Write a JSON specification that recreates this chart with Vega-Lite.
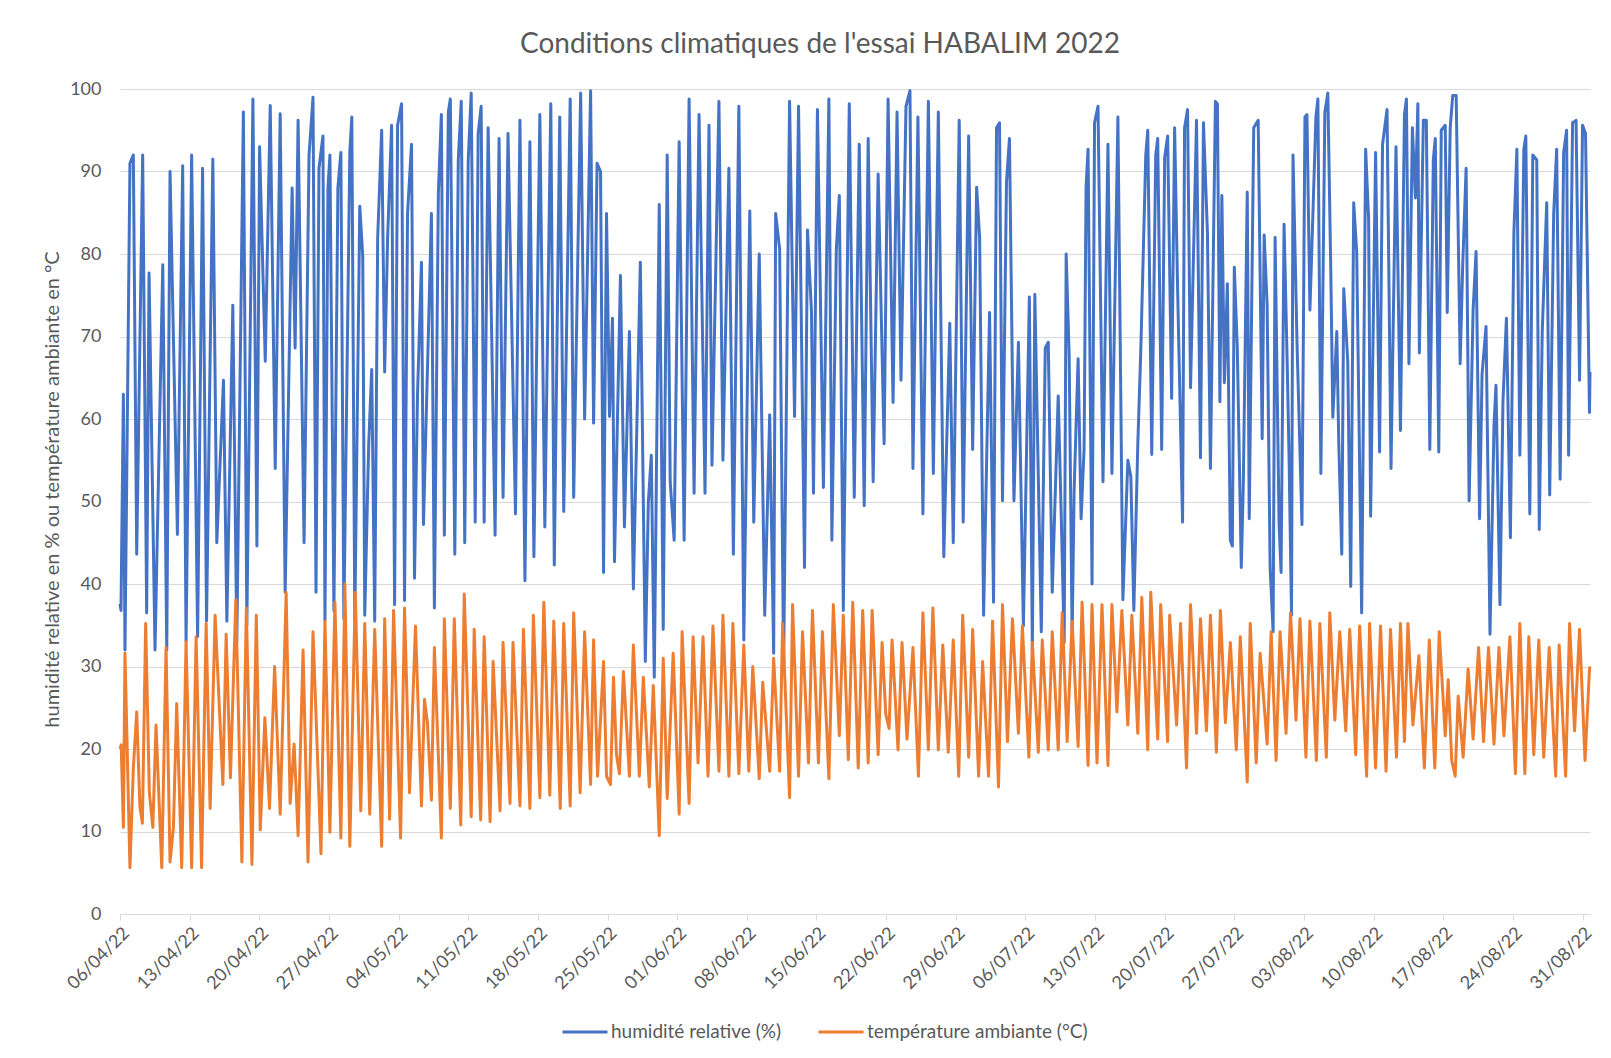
{
"$schema": "https://vega.github.io/schema/vega-lite/v6.json",
"autosize": {"type": "none"},
"width": 1470,
"height": 825,
"padding": {"left": 120, "top": 89, "right": 21, "bottom": 144},
"background": "#ffffff",
"title": {"text": "Conditions climatiques de l'essai HABALIM 2022", "font": "Lato", "fontSize": 28, "fontWeight": "normal", "color": "#595959", "anchor": "middle", "dx": -35, "offset": 21},
"config": {"view": {"stroke": null}, "font": "Lato"},
"encoding": {
"x": {"field": "j", "type": "quantitative", "scale": {"domain": [0, 147.75], "nice": false, "zero": false},
"axis": {"title": null, "values": [0,7,14,21,28,35,42,49,56,63,70,77,84,91,98,105,112,119,126,133,140,147], "labelExpr": "timeFormat(datetime(2022, 3, 6 + datum.value), '%d/%m/%y')", "labelAngle": -45, "labelFont": "Lato", "labelFontSize": 18, "labelColor": "#595959", "grid": false, "domainColor": "#d9d9d9", "tickColor": "#d9d9d9", "tickSize": 6, "labelPadding": 4, "labelOverlap": false, "labelFlush": false}},
"y": {"field": "v", "type": "quantitative", "scale": {"domain": [0, 100], "nice": false},
"axis": {"title": "humidité relative en % ou température ambiante en °C", "titleFont": "Lato", "titleFontSize": 20, "titleFontWeight": "normal", "titleColor": "#595959", "titleX": -68, "titleY": 400, "titleAngle": -90, "titleAlign": "center", "titleBaseline": "middle", "values": [0,10,20,30,40,50,60,70,80,90,100], "labelFont": "Lato", "labelFontSize": 18, "labelColor": "#595959", "domain": false, "ticks": false, "tickSize": 0, "labelPadding": 19, "gridColor": "#d9d9d9", "gridWidth": 1}}
},
"layer": [
{"data": {"values": [
{"j":0,"v":37.6},{"j":0.1,"v":36.8},{"j":0.34,"v":63},{"j":0.5,"v":32},{"j":1.0,"v":91},{"j":1.34,"v":92},{"j":1.68,"v":43.6},{"j":2.28,"v":92},{"j":2.68,"v":36.5},{"j":2.92,"v":77.7},{"j":3.52,"v":32},{"j":4.3,"v":78.7},{"j":4.7,"v":32},{"j":5.03,"v":90},{"j":5.77,"v":46},{"j":6.3,"v":90.7},{"j":6.64,"v":33},{"j":7.2,"v":92},{"j":7.8,"v":33.6},{"j":8.3,"v":90.4},{"j":8.7,"v":35.5},{"j":9.33,"v":91.5},{"j":9.73,"v":45},{"j":10.4,"v":64.7},{"j":10.74,"v":35.5},{"j":11.34,"v":73.8},{"j":11.74,"v":33},{"j":12.4,"v":97.2},{"j":12.75,"v":35},{"j":13.36,"v":98.8},{"j":13.76,"v":44.6},{"j":14.03,"v":93},{"j":14.6,"v":67},{"j":15.1,"v":98},{"j":15.6,"v":54},{"j":16.1,"v":97},{"j":16.6,"v":39},{"j":17.3,"v":88},{"j":17.6,"v":68.6},{"j":17.9,"v":96.2},{"j":18.5,"v":45},{"j":19.0,"v":92},{"j":19.4,"v":99},{"j":19.7,"v":39},{"j":20.0,"v":90.4},{"j":20.4,"v":94.3},{"j":20.6,"v":35.5},{"j":20.9,"v":88},{"j":21.1,"v":92},{"j":21.5,"v":36.8},{"j":21.9,"v":88},{"j":22.2,"v":92.3},{"j":22.5,"v":35.8},{"j":23.1,"v":92.3},{"j":23.3,"v":96.6},{"j":23.6,"v":35.5},{"j":24.1,"v":85.8},{"j":24.4,"v":79.7},{"j":24.6,"v":36.2},{"j":25.0,"v":57},{"j":25.3,"v":66},{"j":25.6,"v":35.5},{"j":25.9,"v":82},{"j":26.3,"v":95},{"j":26.6,"v":65.7},{"j":26.9,"v":82},{"j":27.3,"v":95.6},{"j":27.6,"v":37.5},{"j":27.9,"v":95.6},{"j":28.3,"v":98.2},{"j":28.6,"v":38},{"j":28.9,"v":84.9},{"j":29.3,"v":93.3},{"j":29.6,"v":40.7},{"j":29.9,"v":62.8},{"j":30.3,"v":79},{"j":30.5,"v":47.2},{"j":31.0,"v":70.6},{"j":31.3,"v":84.9},{"j":31.6,"v":37.1},{"j":32.0,"v":87.5},{"j":32.3,"v":96.9},{"j":32.6,"v":45.9},{"j":33.0,"v":97.2},{"j":33.2,"v":98.8},{"j":33.65,"v":43.6},{"j":34.0,"v":91.4},{"j":34.3,"v":98.5},{"j":34.65,"v":45},{"j":35.0,"v":91.4},{"j":35.3,"v":99.5},{"j":35.7,"v":47.5},{"j":36.0,"v":94.6},{"j":36.3,"v":97.9},{"j":36.6,"v":47.5},{"j":37.0,"v":95.3},{"j":37.7,"v":45.9},{"j":38.1,"v":94},{"j":38.5,"v":50.5},{"j":39.0,"v":94.6},{"j":39.75,"v":48.5},{"j":40.2,"v":96.2},{"j":40.7,"v":40.4},{"j":41.2,"v":93.6},{"j":41.6,"v":43.3},{"j":42.2,"v":96.9},{"j":42.7,"v":46.9},{"j":43.3,"v":98.2},{"j":43.65,"v":42.3},{"j":44.2,"v":96.6},{"j":44.6,"v":48.8},{"j":45.25,"v":98.8},{"j":45.6,"v":50.5},{"j":46.3,"v":99.5},{"j":46.7,"v":60},{"j":47.3,"v":99.8},{"j":47.6,"v":59.5},{"j":47.95,"v":91},{"j":48.3,"v":90},{"j":48.6,"v":41.4},{"j":48.9,"v":84.9},{"j":49.2,"v":60.3},{"j":49.5,"v":72.2},{"j":49.7,"v":42.7},{"j":50.3,"v":77.4},{"j":50.7,"v":46.9},{"j":51.2,"v":70.6},{"j":51.6,"v":39.4},{"j":52.3,"v":79},{"j":52.8,"v":30.6},{"j":53.1,"v":49.8},{"j":53.4,"v":55.6},{"j":53.7,"v":28.7},{"j":54.2,"v":86},{"j":54.6,"v":34.5},{"j":55.0,"v":92},{"j":55.3,"v":52.4},{"j":55.7,"v":45.3},{"j":56.2,"v":93.6},{"j":56.7,"v":45.3},{"j":57.2,"v":98.8},{"j":57.7,"v":51},{"j":58.2,"v":96.9},{"j":58.8,"v":51},{"j":59.2,"v":95.6},{"j":59.5,"v":54.4},{"j":60.2,"v":98.5},{"j":60.6,"v":55},{"j":61.2,"v":90.4},{"j":61.65,"v":43.6},{"j":62.2,"v":97.9},{"j":62.7,"v":33.2},{"j":63.3,"v":85.2},{"j":63.7,"v":47.5},{"j":64.25,"v":80},{"j":64.8,"v":36.2},{"j":65.3,"v":60.5},{"j":65.7,"v":31.6},{"j":65.9,"v":84.9},{"j":66.3,"v":80.6},{"j":66.7,"v":30},{"j":67.3,"v":98.5},{"j":67.8,"v":60.3},{"j":68.2,"v":97.9},{"j":68.8,"v":42},{"j":69.1,"v":82.9},{"j":69.5,"v":73},{"j":69.7,"v":51},{"j":70.1,"v":97.5},{"j":70.7,"v":51.7},{"j":71.25,"v":98.8},{"j":71.55,"v":45.3},{"j":72.0,"v":80.6},{"j":72.3,"v":87.1},{"j":72.7,"v":36.8},{"j":73.3,"v":98.2},{"j":73.8,"v":50.5},{"j":74.3,"v":93.3},{"j":74.8,"v":49.5},{"j":75.2,"v":94},{"j":75.7,"v":52.4},{"j":76.2,"v":89.7},{"j":76.8,"v":57},{"j":77.2,"v":98.8},{"j":77.7,"v":62},{"j":78.1,"v":97.2},{"j":78.5,"v":64.7},{"j":79.0,"v":97.9},{"j":79.4,"v":99.8},{"j":79.7,"v":54},{"j":80.2,"v":96.6},{"j":80.7,"v":48.5},{"j":81.25,"v":98.5},{"j":81.75,"v":53.4},{"j":82.25,"v":97.2},{"j":82.8,"v":43.3},{"j":83.4,"v":71.6},{"j":83.75,"v":45},{"j":84.35,"v":96.2},{"j":84.75,"v":47.5},{"j":85.3,"v":94.3},{"j":85.7,"v":56.3},{"j":86.1,"v":88.1},{"j":86.4,"v":82},{"j":86.8,"v":36.2},{"j":87.4,"v":72.9},{"j":87.8,"v":37.8},{"j":88.1,"v":95.3},{"j":88.4,"v":95.9},{"j":88.7,"v":50.1},{"j":89.1,"v":88.7},{"j":89.4,"v":94},{"j":89.85,"v":50.1},{"j":90.3,"v":69.3},{"j":90.8,"v":34.9},{"j":91.4,"v":74.8},{"j":91.7,"v":31.9},{"j":91.95,"v":75.1},{"j":92.3,"v":53},{"j":92.6,"v":34.2},{"j":93.0,"v":68.6},{"j":93.3,"v":69.3},{"j":93.7,"v":39},{"j":94.3,"v":62.8},{"j":94.6,"v":48.5},{"j":94.9,"v":32.9},{"j":95.1,"v":80},{"j":95.4,"v":67.7},{"j":95.7,"v":33.6},{"j":95.9,"v":51.4},{"j":96.3,"v":67.3},{"j":96.6,"v":47.9},{"j":96.9,"v":56.3},{"j":97.1,"v":88.1},{"j":97.3,"v":92.7},{"j":97.7,"v":40},{"j":97.95,"v":95.9},{"j":98.3,"v":97.9},{"j":98.8,"v":52.4},{"j":99.3,"v":93.3},{"j":99.7,"v":53.4},{"j":100.3,"v":96.6},{"j":100.8,"v":38.1},{"j":101.3,"v":55},{"j":101.6,"v":53},{"j":101.9,"v":36.8},{"j":102.3,"v":57},{"j":102.6,"v":68.3},{"j":103.1,"v":92},{"j":103.3,"v":95},{"j":103.7,"v":55.7},{"j":104.1,"v":92},{"j":104.3,"v":94},{"j":104.7,"v":56.3},{"j":105.0,"v":91.7},{"j":105.3,"v":94.3},{"j":105.7,"v":62.5},{"j":106.0,"v":95.3},{"j":106.3,"v":75.8},{"j":106.8,"v":47.5},{"j":107.0,"v":95.3},{"j":107.3,"v":97.5},{"j":107.6,"v":63.8},{"j":108.2,"v":96.2},{"j":108.6,"v":55.3},{"j":108.9,"v":95.9},{"j":109.3,"v":82.5},{"j":109.6,"v":54},{"j":110.1,"v":98.5},{"j":110.3,"v":98.2},{"j":110.55,"v":62.1},{"j":110.75,"v":87.1},{"j":111.0,"v":64.4},{"j":111.3,"v":76.4},{"j":111.6,"v":45.3},{"j":111.8,"v":44.6},{"j":112.0,"v":78.4},{"j":112.3,"v":68.6},{"j":112.7,"v":42},{"j":112.9,"v":51.8},{"j":113.3,"v":87.5},{"j":113.5,"v":47.9},{"j":113.95,"v":95.3},{"j":114.4,"v":96.2},{"j":114.8,"v":57.6},{"j":115.0,"v":82.3},{"j":115.3,"v":73.8},{"j":115.6,"v":42},{"j":115.9,"v":34.2},{"j":116.1,"v":82},{"j":116.5,"v":47.2},{"j":116.7,"v":41.4},{"j":117.0,"v":83.6},{"j":117.3,"v":67.7},{"j":117.5,"v":55.6},{"j":117.75,"v":36.2},{"j":117.9,"v":92},{"j":118.3,"v":69.3},{"j":118.8,"v":47.2},{"j":119.1,"v":96.6},{"j":119.3,"v":96.9},{"j":119.6,"v":73.2},{"j":120.2,"v":96.6},{"j":120.4,"v":98.8},{"j":120.7,"v":53.4},{"j":121.1,"v":97.2},{"j":121.4,"v":99.5},{"j":121.7,"v":77.7},{"j":121.9,"v":60.2},{"j":122.3,"v":70.6},{"j":122.5,"v":57},{"j":122.8,"v":43.6},{"j":123.0,"v":75.8},{"j":123.4,"v":67},{"j":123.7,"v":39.7},{"j":124.0,"v":86.2},{"j":124.3,"v":80.3},{"j":124.8,"v":36.5},{"j":125.2,"v":92.7},{"j":125.5,"v":84.2},{"j":125.7,"v":48.2},{"j":126.2,"v":92.3},{"j":126.6,"v":56},{"j":126.9,"v":93.3},{"j":127.35,"v":97.5},{"j":127.75,"v":54},{"j":128.25,"v":93},{"j":128.7,"v":58.6},{"j":129.1,"v":96.9},{"j":129.3,"v":98.8},{"j":129.55,"v":66.7},{"j":129.9,"v":95.3},{"j":130.2,"v":86.8},{"j":130.45,"v":98.2},{"j":130.6,"v":68},{"j":131.0,"v":96.2},{"j":131.3,"v":96.2},{"j":131.65,"v":56.3},{"j":132.0,"v":91.4},{"j":132.2,"v":94},{"j":132.55,"v":56},{"j":132.8,"v":95},{"j":133.2,"v":95.6},{"j":133.4,"v":72.9},{"j":133.7,"v":95.3},{"j":133.95,"v":99.2},{"j":134.3,"v":99.2},{"j":134.7,"v":66.7},{"j":134.95,"v":78.4},{"j":135.3,"v":90.4},{"j":135.6,"v":50.1},{"j":136.0,"v":73.2},{"j":136.3,"v":80.3},{"j":136.65,"v":47.9},{"j":136.9,"v":65.4},{"j":137.3,"v":71.2},{"j":137.7,"v":33.9},{"j":138.1,"v":59.2},{"j":138.3,"v":64.1},{"j":138.7,"v":37.5},{"j":139.0,"v":62.1},{"j":139.35,"v":72.2},{"j":139.75,"v":45.6},{"j":140.1,"v":82.6},{"j":140.4,"v":92.7},{"j":140.7,"v":55.6},{"j":141.1,"v":92.7},{"j":141.3,"v":94.3},{"j":141.7,"v":48.5},{"j":142.0,"v":92},{"j":142.4,"v":91.4},{"j":142.65,"v":46.6},{"j":142.95,"v":70.6},{"j":143.4,"v":86.2},{"j":143.7,"v":50.8},{"j":144.1,"v":84.9},{"j":144.4,"v":92.7},{"j":144.75,"v":52.7},{"j":145.1,"v":92.3},{"j":145.4,"v":95},{"j":145.6,"v":55.6},{"j":146.0,"v":95.9},{"j":146.35,"v":96.2},{"j":146.7,"v":64.7},{"j":147.0,"v":95.6},{"j":147.3,"v":94.6},{"j":147.7,"v":60.8},{"j":147.75,"v":65.7}
]},
"mark": {"type": "line", "strokeWidth": 3, "strokeJoin": "round"},
"encoding": {"color": {"datum": "humidité relative (%)", "type": "nominal", "scale": {"domain": ["humidité relative (%)", "température ambiante (°C)"], "range": ["#4472C4", "#ED7D31"]},
"legend": {"title": null, "orient": "none", "legendX": 441, "legendY": 919, "direction": "horizontal", "symbolType": "stroke", "symbolSize": 2025, "symbolStrokeWidth": 3, "labelFont": "Lato", "labelFontSize": 19, "labelColor": "#595959", "labelOffset": 2, "columnPadding": 30, "labelLimit": 400}}}},
{"data": {"values": [
{"j":0,"v":20},{"j":0.12,"v":20.5},{"j":0.34,"v":10.5},{"j":0.5,"v":31.6},{"j":1.0,"v":5.6},{"j":1.34,"v":17.7},{"j":1.68,"v":24.5},{"j":2.0,"v":13},{"j":2.25,"v":11},{"j":2.58,"v":35.2},{"j":2.95,"v":14.7},{"j":3.3,"v":10.5},{"j":3.62,"v":22.9},{"j":4.2,"v":5.6},{"j":4.63,"v":32.3},{"j":5.03,"v":6.3},{"j":5.37,"v":10.5},{"j":5.7,"v":25.5},{"j":6.2,"v":5.6},{"j":6.64,"v":33},{"j":7.2,"v":5.6},{"j":7.65,"v":33.6},{"j":8.2,"v":5.6},{"j":8.66,"v":35.2},{"j":9.06,"v":12.8},{"j":9.56,"v":36.2},{"j":10.34,"v":15.7},{"j":10.67,"v":33.9},{"j":11.1,"v":16.5},{"j":11.64,"v":38.1},{"j":12.25,"v":6.3},{"j":12.7,"v":37.1},{"j":13.26,"v":6},{"j":13.7,"v":36.2},{"j":14.1,"v":10.2},{"j":14.56,"v":23.8},{"j":15.03,"v":12.8},{"j":15.54,"v":30},{"j":16.1,"v":12.1},{"j":16.7,"v":39},{"j":17.1,"v":13.4},{"j":17.5,"v":20.6},{"j":17.9,"v":9.5},{"j":18.4,"v":32},{"j":18.9,"v":6.3},{"j":19.4,"v":34.2},{"j":20.2,"v":7.3},{"j":20.6,"v":35.5},{"j":21.1,"v":9.9},{"j":21.6,"v":37.8},{"j":22.2,"v":9.2},{"j":22.6,"v":40},{"j":23.1,"v":8.2},{"j":23.65,"v":39},{"j":24.2,"v":12.5},{"j":24.6,"v":35.2},{"j":25.1,"v":12.1},{"j":25.6,"v":34.5},{"j":26.3,"v":8.2},{"j":26.6,"v":35.8},{"j":27.1,"v":11.5},{"j":27.5,"v":36.8},{"j":28.2,"v":9.2},{"j":28.6,"v":37.1},{"j":29.1,"v":14.7},{"j":29.7,"v":34.9},{"j":30.3,"v":13.1},{"j":30.6,"v":26},{"j":30.9,"v":23.2},{"j":31.3,"v":13.8},{"j":31.6,"v":32.3},{"j":32.3,"v":9.2},{"j":32.6,"v":35.8},{"j":33.2,"v":12.8},{"j":33.6,"v":35.8},{"j":34.25,"v":10.8},{"j":34.6,"v":38.8},{"j":35.3,"v":11.8},{"j":35.6,"v":34.5},{"j":36.25,"v":11.4},{"j":36.6,"v":33.6},{"j":37.2,"v":11.2},{"j":37.5,"v":30.6},{"j":38.2,"v":12.5},{"j":38.5,"v":32.9},{"j":39.2,"v":13.4},{"j":39.5,"v":32.9},{"j":40.2,"v":13.1},{"j":40.55,"v":34.5},{"j":41.2,"v":12.8},{"j":41.55,"v":36.2},{"j":42.2,"v":14.1},{"j":42.6,"v":37.8},{"j":43.2,"v":14.4},{"j":43.6,"v":35.5},{"j":44.25,"v":12.8},{"j":44.6,"v":35.2},{"j":45.25,"v":13.1},{"j":45.6,"v":36.5},{"j":46.25,"v":14.7},{"j":46.7,"v":34.2},{"j":47.3,"v":15.7},{"j":47.6,"v":33.2},{"j":48.0,"v":16.7},{"j":48.6,"v":30.6},{"j":48.9,"v":16.7},{"j":49.3,"v":15.7},{"j":49.6,"v":28.7},{"j":49.9,"v":19.3},{"j":50.2,"v":17},{"j":50.6,"v":29.4},{"j":51.2,"v":16.7},{"j":51.6,"v":32.6},{"j":52.2,"v":16.7},{"j":52.6,"v":28.7},{"j":53.2,"v":15.4},{"j":53.6,"v":27.7},{"j":54.2,"v":9.5},{"j":54.6,"v":31},{"j":55.0,"v":14},{"j":55.6,"v":31.6},{"j":56.2,"v":12.1},{"j":56.5,"v":34.2},{"j":57.2,"v":13.4},{"j":57.6,"v":33.6},{"j":58.1,"v":18.3},{"j":58.6,"v":33.6},{"j":59.1,"v":16.7},{"j":59.6,"v":34.9},{"j":60.2,"v":17.3},{"j":60.6,"v":36.2},{"j":61.2,"v":16.7},{"j":61.6,"v":35.2},{"j":62.2,"v":17},{"j":62.7,"v":32.6},{"j":63.2,"v":17.3},{"j":63.6,"v":30},{"j":64.25,"v":16.4},{"j":64.6,"v":28.1},{"j":65.3,"v":17.3},{"j":65.7,"v":31},{"j":66.3,"v":17.3},{"j":66.6,"v":35.2},{"j":67.3,"v":14.1},{"j":67.6,"v":37.5},{"j":68.2,"v":16.7},{"j":68.6,"v":34.2},{"j":69.2,"v":18.3},{"j":69.6,"v":36.8},{"j":70.2,"v":18.3},{"j":70.6,"v":34.2},{"j":71.25,"v":16.4},{"j":71.7,"v":37.5},{"j":72.3,"v":21.6},{"j":72.7,"v":36.2},{"j":73.2,"v":18.7},{"j":73.65,"v":37.8},{"j":74.2,"v":17.7},{"j":74.65,"v":36.8},{"j":75.2,"v":18.3},{"j":75.6,"v":36.8},{"j":76.2,"v":19.3},{"j":76.6,"v":32.9},{"j":76.97,"v":24.2},{"j":77.3,"v":22.5},{"j":77.6,"v":33.2},{"j":78.2,"v":19.9},{"j":78.6,"v":32.9},{"j":79.1,"v":21.2},{"j":79.7,"v":32.3},{"j":80.25,"v":16.7},{"j":80.7,"v":36.5},{"j":81.25,"v":19.9},{"j":81.7,"v":37.1},{"j":82.25,"v":19.9},{"j":82.7,"v":32.6},{"j":83.25,"v":19.6},{"j":83.75,"v":33.2},{"j":84.3,"v":16.7},{"j":84.7,"v":36.2},{"j":85.3,"v":19},{"j":85.7,"v":34.5},{"j":86.3,"v":16.7},{"j":86.7,"v":30.6},{"j":87.3,"v":16.7},{"j":87.7,"v":35.5},{"j":88.3,"v":15.4},{"j":88.7,"v":37.5},{"j":89.2,"v":20.9},{"j":89.7,"v":35.8},{"j":90.3,"v":21.9},{"j":90.7,"v":34.9},{"j":91.35,"v":19},{"j":91.7,"v":32.9},{"j":92.3,"v":19.6},{"j":92.7,"v":33.2},{"j":93.3,"v":19.9},{"j":93.7,"v":34.2},{"j":94.3,"v":19.9},{"j":94.7,"v":36.5},{"j":95.2,"v":20.9},{"j":95.7,"v":35.5},{"j":96.3,"v":20.3},{"j":96.7,"v":37.8},{"j":97.3,"v":18},{"j":97.7,"v":37.5},{"j":98.2,"v":18.3},{"j":98.7,"v":37.5},{"j":99.3,"v":18},{"j":99.7,"v":37.5},{"j":100.2,"v":24.5},{"j":100.7,"v":36.8},{"j":101.3,"v":22.9},{"j":101.7,"v":36.2},{"j":102.3,"v":21.9},{"j":102.7,"v":38.4},{"j":103.3,"v":19.9},{"j":103.6,"v":39},{"j":104.3,"v":21.2},{"j":104.6,"v":37.5},{"j":105.3,"v":20.9},{"j":105.5,"v":36.2},{"j":106.2,"v":22.9},{"j":106.6,"v":35.2},{"j":107.2,"v":17.7},{"j":107.6,"v":37.5},{"j":108.2,"v":21.9},{"j":108.6,"v":35.8},{"j":109.2,"v":22.2},{"j":109.6,"v":36.2},{"j":110.2,"v":19.6},{"j":110.6,"v":36.8},{"j":111.1,"v":23.2},{"j":111.6,"v":32.9},{"j":112.2,"v":19.9},{"j":112.6,"v":33.6},{"j":113.3,"v":16},{"j":113.6,"v":35.2},{"j":114.2,"v":18.3},{"j":114.6,"v":31.6},{"j":115.3,"v":20.6},{"j":115.7,"v":34.2},{"j":116.2,"v":18.6},{"j":116.6,"v":34.2},{"j":117.2,"v":21.9},{"j":117.65,"v":36.5},{"j":118.2,"v":23.5},{"j":118.6,"v":35.8},{"j":119.2,"v":19},{"j":119.6,"v":35.5},{"j":120.25,"v":18.6},{"j":120.6,"v":35.2},{"j":121.25,"v":19},{"j":121.6,"v":36.5},{"j":122.1,"v":23.5},{"j":122.6,"v":34.2},{"j":123.2,"v":22.2},{"j":123.6,"v":34.5},{"j":124.2,"v":19.3},{"j":124.6,"v":34.9},{"j":125.3,"v":16.7},{"j":125.6,"v":35.2},{"j":126.2,"v":17.7},{"j":126.7,"v":34.9},{"j":127.25,"v":17.3},{"j":127.7,"v":34.5},{"j":128.3,"v":19},{"j":128.7,"v":35.2},{"j":129.1,"v":20.9},{"j":129.45,"v":35.2},{"j":129.95,"v":22.9},{"j":130.55,"v":31.3},{"j":131.1,"v":17.7},{"j":131.6,"v":33.2},{"j":132.15,"v":17.7},{"j":132.6,"v":34.2},{"j":133.2,"v":21.6},{"j":133.5,"v":28.4},{"j":133.85,"v":18.6},{"j":134.2,"v":16.7},{"j":134.5,"v":26.4},{"j":135.0,"v":19},{"j":135.5,"v":29.7},{"j":136.0,"v":21.2},{"j":136.55,"v":32.3},{"j":137.05,"v":20.9},{"j":137.55,"v":32.3},{"j":138.1,"v":20.6},{"j":138.6,"v":32.3},{"j":139.1,"v":21.6},{"j":139.7,"v":33.6},{"j":140.25,"v":17},{"j":140.7,"v":35.2},{"j":141.2,"v":17},{"j":141.6,"v":33.6},{"j":142.1,"v":19.3},{"j":142.6,"v":33.2},{"j":143.1,"v":19},{"j":143.65,"v":32.3},{"j":144.3,"v":16.7},{"j":144.65,"v":32.6},{"j":145.3,"v":16.7},{"j":145.7,"v":35.2},{"j":146.2,"v":22.2},{"j":146.7,"v":34.5},{"j":147.25,"v":18.6},{"j":147.7,"v":29.7},{"j":147.75,"v":30}
]},
"mark": {"type": "line", "strokeWidth": 3, "strokeJoin": "round"},
"encoding": {"color": {"datum": "température ambiante (°C)", "type": "nominal"}}}
]
}
